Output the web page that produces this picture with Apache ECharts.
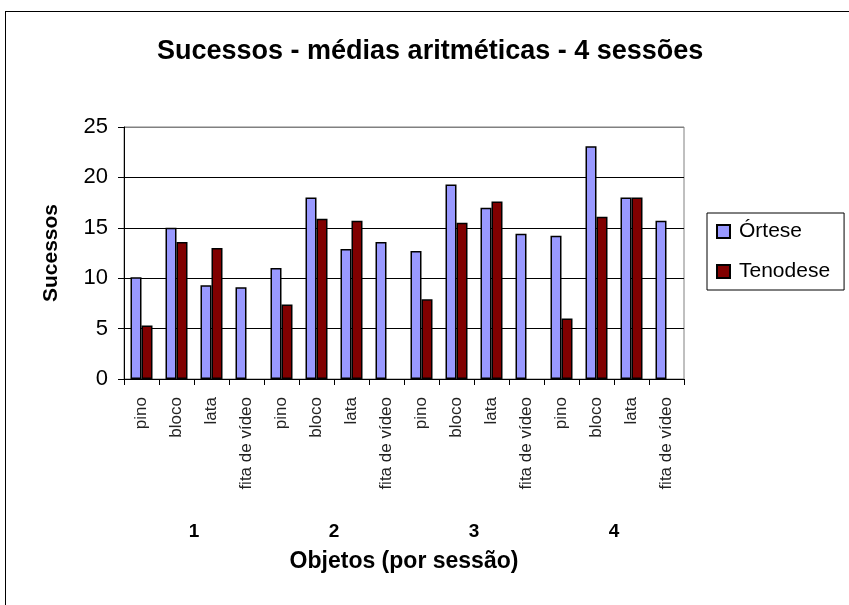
<!DOCTYPE html>
<html>
<head>
<meta charset="utf-8">
<script src="https://cdn.jsdelivr.net/npm/echarts@6/dist/echarts.min.js"></script>
<style>html,body{margin:0;padding:0;background:#fff;}#c{width:849px;height:605px;}</style>
</head>
<body>
<div id="c"></div>
<script>
const categories = ['pino','bloco','lata','fita de vídeo','pino','bloco','lata','fita de vídeo','pino','bloco','lata','fita de vídeo','pino','bloco','lata','fita de vídeo'];
const sessions = ['1','2','3','4'];
const ortese = [10.1, 15.0, 9.3, 9.1, 11.0, 18.0, 12.9, 13.6, 12.7, 19.3, 17.0, 14.4, 14.2, 23.1, 18.0, 15.7];
const tenodese = [5.3, 13.6, 13.0, null, 7.4, 15.9, 15.7, null, 7.9, 15.5, 17.6, null, 6.0, 16.1, 18.0, null];
const yTicks = [0, 5, 10, 15, 20, 25];

const FONT = 'Liberation Sans, Arial, sans-serif';
const chart = echarts.init(document.getElementById('c'), null, {renderer: 'canvas'});
chart.setOption({
  backgroundColor: '#fff',
  animation: false,
  textStyle: {fontFamily: FONT},
  title: {
    text: 'Sucessos - médias aritméticas - 4 sessões',
    left: 152, top: 33,
    textStyle: {fontFamily: FONT, fontSize: 27, fontWeight: 'bold', color: '#000'}
  },
  graphic: [
    {type: 'line', shape: {x1: 5.5, y1: 11, x2: 5.5, y2: 605}, style: {stroke: '#000', lineWidth: 1}},
    {type: 'line', shape: {x1: 5, y1: 11.5, x2: 849, y2: 11.5}, style: {stroke: '#000', lineWidth: 1}}
  ],
  legend: {
    orient: 'vertical',
    left: 707, top: 213,
    width: 141,
    padding: [8, 14, 8, 9],
    itemGap: 19,
    itemWidth: 13, itemHeight: 13,
    borderColor: '#000', borderWidth: 1,
    icon: 'rect',
    textStyle: {fontFamily: FONT, fontSize: 21, color: '#000', padding: [0, 0, 0, 4]},
    data: ['Órtese', 'Tenodese']
  },
  grid: {
    left: 124, right: 165, top: 127, bottom: 226,
    show: true, borderColor: '#808080', borderWidth: 1, backgroundColor: '#fff'
  },
  xAxis: [
    {
      type: 'category',
      data: categories,
      boundaryGap: true,
      axisLine: {lineStyle: {color: '#000', width: 1}},
      axisTick: {show: true, length: 6, alignWithLabel: false, interval: 0, lineStyle: {color: '#000'}},
      axisLabel: {rotate: 90, interval: 0, margin: 18, fontSize: 17, color: '#222', fontFamily: FONT},
      splitLine: {show: false}
    },
    {
      type: 'category',
      data: sessions,
      position: 'bottom',
      gridIndex: 0,
      axisLine: {show: false},
      axisTick: {show: false},
      axisLabel: {margin: 143, fontSize: 19, fontWeight: 'bold', color: '#000', fontFamily: FONT},
      name: 'Objetos (por sessão)',
      nameLocation: 'middle',
      nameGap: 171,
      nameTextStyle: {fontSize: 23, fontWeight: 'bold', color: '#000', fontFamily: FONT}
    }
  ],
  yAxis: {
    type: 'value',
    min: yTicks[0], max: yTicks[yTicks.length - 1], interval: 5,
    axisLine: {show: true, lineStyle: {color: '#000', width: 1}},
    axisTick: {show: true, length: 6, inside: false, lineStyle: {color: '#000'}},
    axisLabel: {margin: 16, fontSize: 22, color: '#000', fontFamily: FONT},
    splitLine: {show: true, lineStyle: {color: ['#000', '#000', '#000', '#000', '#000', '#808080'], width: 1}},
    name: 'Sucessos',
    nameLocation: 'middle',
    nameRotate: 90,
    nameGap: 62,
    nameTextStyle: {fontSize: 21, fontWeight: 'bold', color: '#000', fontFamily: FONT}
  },
  series: [
    {
      name: 'Órtese', type: 'bar', data: ortese, xAxisIndex: 0,
      barWidth: 11, barGap: '0%',
      itemStyle: {color: '#9999FF', borderColor: '#000', borderWidth: 1.5}
    },
    {
      name: 'Tenodese', type: 'bar', data: tenodese, xAxisIndex: 0,
      barWidth: 11, barGap: '0%',
      itemStyle: {color: '#800000', borderColor: '#000', borderWidth: 1.5}
    }
  ]
});
</script>
</body>
</html>
